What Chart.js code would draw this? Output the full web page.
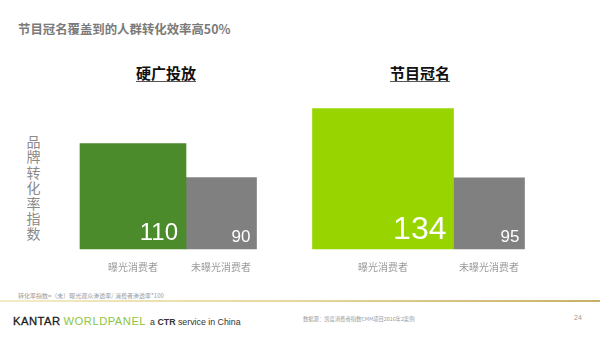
<!DOCTYPE html>
<html lang="zh">
<head>
<meta charset="utf-8">
<title>节目冠名覆盖到的人群转化效率高50%</title>
<script src="https://cdn.jsdelivr.net/npm/chart.js@4/dist/chart.umd.min.js"></script>
<style>
  html, body { margin: 0; padding: 0; background: #fff; }
  body { width: 600px; height: 337px; position: relative; overflow: hidden;
         font-family: "Noto Sans CJK SC", "Liberation Sans", sans-serif; }
  .abs { position: absolute; white-space: nowrap; }
  #headline { left: 18px; top: 21px; font-size: 12.4px; font-weight: bold; color: #7a7a7a; line-height: 16px; }
  .panel-title { top: 64px; font-size: 15px; font-weight: bold; color: #111; line-height: 17px;
                 text-decoration: underline; text-underline-offset: 2px; text-decoration-color: #555;
                 transform: translateX(-50%); }
  #ylabel { left: 26px; top: 134px; width: 15px; font-size: 14px; line-height: 15.4px; color: #8a8a8a;
            white-space: normal; word-break: break-all; text-align: center; }
  #note { left: 18px; top: 291px; font-size: 6px; color: #9a9a9a; }
  #rule { left: 0; top: 300px; width: 600px; height: 2px;
          background: linear-gradient(to right, #f4ebc6, #e6d79c 50%, #c8b066); }
  #logo { left: 13px; top: 313px; font-family: "Liberation Sans", Arial, sans-serif; line-height: 14px; }
  #logo .k { font-size: 11.2px; color: #1a1a1a; letter-spacing: 0.5px; -webkit-text-stroke: 0.3px #1a1a1a; }
  #logo .w { font-size: 11.2px; color: #8cc63e; letter-spacing: 0.5px; margin-left: 3px; }
  #logo .c { font-size: 8.8px; color: #333; margin-left: 4px; }
  #source { left: 303px; top: 315px; font-size: 5.3px; color: #9a9a9a; }
  #page { left: 574px; top: 314px; font-size: 7px; color: #9a9a9a; font-family: "Liberation Sans", sans-serif; }
  canvas { position: absolute; }
</style>
</head>
<body>
<div id="headline" class="abs">节目冠名覆盖到的人群转化效率高50%</div>
<div id="title-left" class="abs panel-title" style="left:166px">硬广投放</div>
<div id="title-right" class="abs panel-title" style="left:420px">节目冠名</div>
<div id="ylabel" class="abs">品牌转化率指数</div>

<canvas id="hardAd" width="230" height="190" style="left:60px;top:89px"></canvas>
<canvas id="naming" width="260" height="190" style="left:300px;top:89px"></canvas>

<div id="note" class="abs">转化率指数=（未）曝光观众渗透率/ 消费者渗透率*100</div>
<div id="rule" class="abs"></div>
<div id="logo" class="abs"><span class="k">KANTAR</span><span class="w">WORLDPANEL</span><span class="c">a <b>CTR</b> service in China</span></div>
<div id="source" class="abs">数据源：凯度消费者指数CMM项目2016年2案例</div>
<div id="page" class="abs">24</div>

<script>
// categories shared by both panels
const groups = ["曝光消费者", "未曝光消费者"];
// brand conversion index per panel
const hardAdValues = [110, 90];
const namingValues = [134, 95];

const GRAY = "#808080";

// white value labels, right-aligned at the bottom of each bar
const valueLabels = {
  id: "valueLabels",
  afterDatasetsDraw(chart) {
    const ctx = chart.ctx;
    chart.data.datasets.forEach((ds, i) => {
      const meta = chart.getDatasetMeta(i);
      meta.data.forEach((bar, j) => {
        const v = ds.data[j];
        if (v == null) return;
        ctx.save();
        ctx.fillStyle = "#fff";
        ctx.font = ds.labelSize + 'px "Liberation Sans", Arial, sans-serif';
        ctx.textAlign = "right";
        ctx.textBaseline = "alphabetic";
        ctx.fillText(String(v), bar.x + bar.width / 2 - ds.labelRight, bar.base - ds.labelBottom);
        ctx.restore();
      });
    });
  }
};

function makePanel(id, values, color, widths, labels, yRange, padding) {
  return new Chart(document.getElementById(id), {
    type: "bar",
    data: {
      labels: groups,
      datasets: [
        {
          data: [values[0], null],
          backgroundColor: color,
          barThickness: widths[0],
          base: yRange[0],
          grouped: false,
          clip: false,
          labelSize: labels[0].size, labelRight: labels[0].right, labelBottom: labels[0].bottom
        },
        {
          data: [null, values[1]],
          backgroundColor: GRAY,
          barThickness: widths[1],
          base: yRange[0],
          grouped: false,
          clip: false,
          labelSize: labels[1].size, labelRight: labels[1].right, labelBottom: labels[1].bottom
        }
      ]
    },
    options: {
      responsive: false,
      animation: false,
      layout: { padding: { left: padding[0], right: padding[1], top: 0, bottom: 0 } },
      plugins: { legend: { display: false }, tooltip: { enabled: false } },
      scales: {
        x: {
          grid: { display: false, drawTicks: false },
          border: { display: false },
          ticks: {
            color: "#9a9a9a",
            padding: 12,
            font: { size: 10, family: '"Noto Sans CJK SC", sans-serif' }
          },
          afterFit(scale) { scale.height = 30; }
        },
        y: { display: false, min: yRange[0], max: yRange[1] }
      }
    },
    plugins: [valueLabels]
  });
}

makePanel("hardAd", hardAdValues, "#4b8b2b", [106, 71],
  [{ size: 24, right: 8, bottom: 9 }, { size: 17, right: 6, bottom: 7 }],
  [48, 142], [29, 25]);

makePanel("naming", namingValues, "#97d400", [141, 71],
  [{ size: 32, right: 7, bottom: 10 }, { size: 17, right: 5, bottom: 7 }],
  [55, 145], [30, 18]);
</script>
</body>
</html>
